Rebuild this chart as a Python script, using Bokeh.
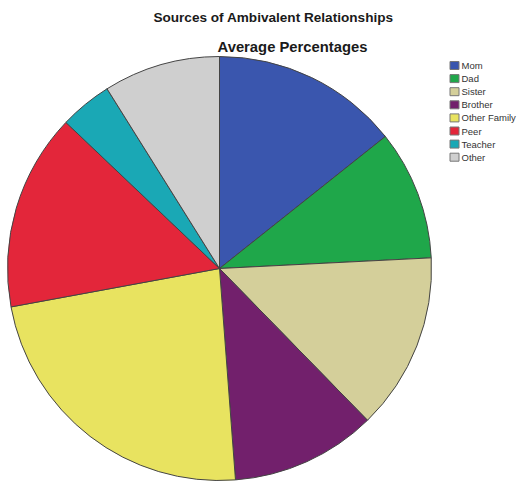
import numpy as np
from bokeh.plotting import figure
from bokeh.models import Range1d, ColumnDataSource
from bokeh.core.properties import value
from bokeh.embed import file_html
from bokeh.resources import INLINE

categories = ["Mom", "Dad", "Sister", "Brother", "Other Family", "Peer", "Teacher", "Other"]
percentages = [14.3, 9.9, 13.5, 11.1, 23.3, 15.0, 4.0, 8.9]
colors = ["#3a56ae", "#1fa74a", "#d4cf9a", "#72206c", "#e8e360", "#e3263a", "#1aa8b5", "#cfcfcf"]
title_lines = ["Sources of Ambivalent Relationships", "Average Percentages"]

W, H = 520, 486
p = figure(width=W, height=H, output_backend="svg", toolbar_location=None,
           x_range=Range1d(0, W), y_range=Range1d(0, H), min_border=0)
p.axis.visible = False
p.grid.visible = False
p.outline_line_color = None
p.background_fill_color = "white"
p.border_fill_color = "white"

vals = np.array(percentages, dtype=float)
frac = vals / vals.sum()
cum = np.concatenate([[0], np.cumsum(frac)]) * 2 * np.pi
start = np.pi / 2 - cum[:-1]
end = np.pi / 2 - cum[1:]

cx, cy, r = 219, H - 268, 212
src = ColumnDataSource(dict(start=start, end=end, color=colors, cat=categories))
p.wedge(x=cx, y=cy, radius=r, start_angle="start", end_angle="end", direction="clock",
        fill_color="color", line_color="#444444", line_width=1, source=src)

p.text(x=[273], y=[H - 17], text=[title_lines[0]], text_align="center",
       text_baseline="middle", text_font=value("Liberation Sans"), text_font_size="13.6px",
       text_font_style="bold", text_color="#1a1a1a")
p.text(x=[292], y=[H - 46], text=[title_lines[1]], text_align="center",
       text_baseline="middle", text_font=value("Liberation Sans"), text_font_size="14.8px",
       text_font_style="bold", text_color="#1a1a1a")

n = len(categories)
ly = [H - (65 + 13.1 * i) for i in range(n)]
p.rect(x=[454] * n, y=ly, width=9, height=8, fill_color=colors, line_color="#777777", line_width=1)
p.text(x=[461] * n, y=ly, text=categories, text_baseline="middle", text_align="left",
       text_font=value("Liberation Sans"), text_font_size="9.5px", text_color="#333333")

open("out.html", "w").write(file_html(p, INLINE))
